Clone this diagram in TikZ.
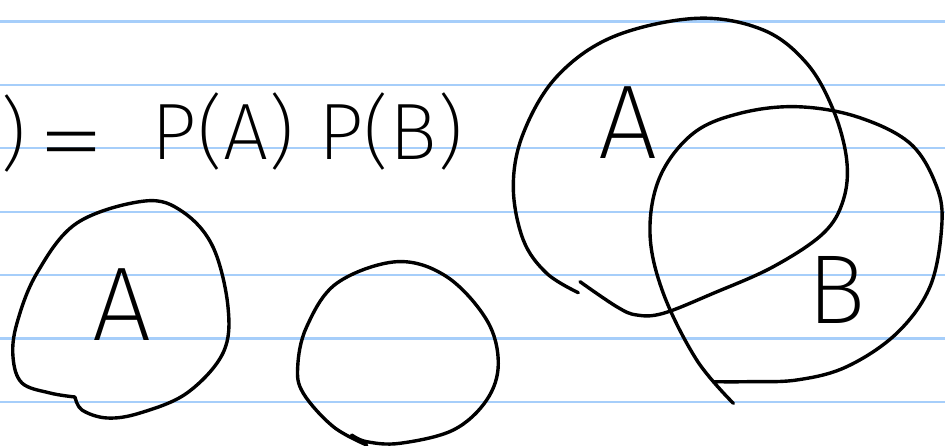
\documentclass[tikz,border=0pt]{standalone}
\usepackage{fontspec}
\newfontfamily\hand{Fira Sans ExtraLight}
\definecolor{ruleblue}{RGB}{166,206,250}
\begin{document}
\begin{tikzpicture}[x=1pt,y=-1pt,
  ink/.style={line width=3.4pt, line cap=round, line join=round},
  ruled/.style={draw=ruleblue, line width=2.2pt},
  txt/.style={inner sep=0pt, outer sep=0pt, text=black}]
\useasboundingbox (0,0) rectangle (945,446);
\fill[white] (0,0) rectangle (945,446);
% ruled lines
\foreach \yy in {21.5,84.9,148.3,211.7,275.1,338.5,401.9} {
  \draw[ruled] (0,\yy) -- (945,\yy);
}
% top formula
\node[txt, font=\hand\fontsize{80}{90}\selectfont] (rp) at (13,134) {)};
\node[txt, font=\hand\fontsize{84}{90}\selectfont] (eq) at (72,152) {\scalebox{1.65}[1.1]{=}};
\node[txt, font=\hand\fontsize{80}{90}\selectfont] (pa) at (223,132) {P(A)};
\node[txt, font=\hand\fontsize{80}{90}\selectfont] (pb) at (391,132) {P(B)};
% left blob with A
\draw[ink] plot[smooth, tension=0.6] coordinates {(75,397) (50,393) (22,383) (13,357) (17,323) (37,273) (77,223) (145,201) (183,212) (213,247) (228,307) (223,353) (187,393) (140,413) (107,418) (82,410) (75,397)};
\node[txt, font=\hand\fontsize{105}{110}\selectfont] (la) at (122,305) {A};
% middle circle
\draw[ink] plot[smooth, tension=0.6] coordinates {(366.7,445) (333.3,426.7) (303.3,393.3) (297.7,366.7) (306.7,326.7) (336.7,283.3) (396.7,261.7) (446.7,276.7) (486.7,320) (498.3,363.3) (486.7,400) (453.3,430) (400,443.3) (366.7,441.7) (351.7,435)};
% big circle A
\draw[ink] plot[smooth, tension=0.6] coordinates {(578.3,292.7) (546.7,273.3) (523.3,240) (513.3,186.7) (523.3,133.3) (556.7,76.7) (613.3,36.7) (696.7,18.3) (763.3,30) (806.7,63.3) (833.3,110) (846.7,160) (843.3,200) (823.3,233.3) (773.3,266.7) (713.3,293.3) (663.3,313.3) (636.7,315) (616.7,306.7) (580,281.7)};
% circle B
\draw[ink] plot[smooth, tension=0.6] coordinates {(733.3,403.3) (696.7,360) (663.3,293.3) (650,233.3) (660,176.7) (693.3,133.3) (740,113.3) (796.7,106.7) (856.7,116.7) (910,143.3) (936.7,186.7) (941.7,226.7) (930,286.7) (896.7,333.3) (846.7,366.7) (796.7,380) (746.7,381.7) (713.3,381.7)};
\node[txt, font=\hand\fontsize{105}{110}\selectfont] (ba) at (628,123) {A};
\node[txt, font=\hand\fontsize{98}{105}\selectfont] (bb) at (837,290) {B};
\end{tikzpicture}
\end{document}
